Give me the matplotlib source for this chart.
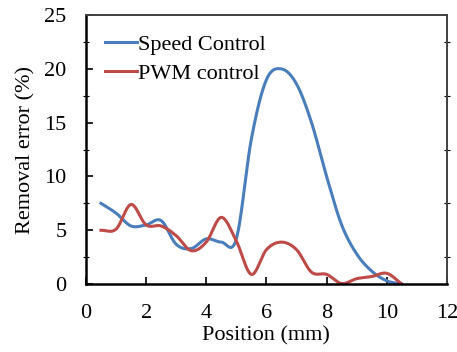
import numpy as np
import matplotlib.pyplot as plt
from matplotlib.ticker import MultipleLocator

position = [0.5, 1.0, 1.5, 2.0, 2.5, 3.0, 3.5, 4.0, 4.5, 5.0, 5.5,
            6.0, 6.5, 7.0, 7.5, 8.0, 8.5, 9.0, 9.5, 10.0, 10.5]
speed_control = [7.5, 6.6, 5.4, 5.5, 5.9, 3.7, 3.3, 4.2, 3.9, 4.2, 13.5,
                 19.0, 20.0, 18.6, 15.0, 10.0, 5.5, 2.8, 1.2, 0.3, 0.0]
pwm_control = [5.0, 5.1, 7.4, 5.5, 5.4, 4.5, 3.1, 3.9, 6.2, 4.0, 0.9,
               3.2, 3.9, 3.2, 1.1, 0.9, 0.05, 0.5, 0.7, 1.0, 0.0]


def smooth(x, y, n=20):
    # catmull-rom, like excel's smoothed line
    x = np.asarray(x, float)
    y = np.asarray(y, float)
    px = np.concatenate([[2 * x[0] - x[1]], x, [2 * x[-1] - x[-2]]])
    py = np.concatenate([[2 * y[0] - y[1]], y, [2 * y[-1] - y[-2]]])
    xs, ys = [], []
    t = np.linspace(0, 1, n, endpoint=False)
    for i in range(1, len(px) - 2):
        for p, out in ((px, xs), (py, ys)):
            p0, p1, p2, p3 = p[i - 1], p[i], p[i + 1], p[i + 2]
            out.extend(0.5 * (2 * p1 + (-p0 + p2) * t
                              + (2 * p0 - 5 * p1 + 4 * p2 - p3) * t ** 2
                              + (-p0 + 3 * p1 - 3 * p2 + p3) * t ** 3))
    xs.append(x[-1])
    ys.append(y[-1])
    return np.array(xs), np.array(ys)


plt.rcParams['font.family'] = 'Liberation Serif'

fig = plt.figure(figsize=(4.57, 3.52), dpi=100)
ax = fig.add_axes([0.188, 0.193, 0.79, 0.764])

sx, sy = smooth(position, speed_control)
ax.plot(sx, sy, color='#4a7ebb', lw=2.2, label='Speed Control')
px_, py_ = smooth(position, pwm_control)
ax.plot(px_, py_, color='#be4b48', lw=2.2, label='PWM control')

ax.set_xlim(0, 12)
ax.set_ylim(0, 25)
ax.xaxis.set_major_locator(MultipleLocator(2))
ax.yaxis.set_major_locator(MultipleLocator(5))
ax.yaxis.set_minor_locator(MultipleLocator(2.5))
ax.tick_params(axis='both', which='major', direction='in', length=5,
               width=1.2, labelsize=16, colors='black', pad=14)
ax.tick_params(axis='y', which='minor', direction='inout', length=4,
               width=0.8, right=True)
ax.tick_params(axis='y', which='major', right=False)

ax.spines['left'].set_linewidth(1.8)
ax.spines['bottom'].set_linewidth(1.8)
for s in ('top', 'right'):
    ax.spines[s].set_linewidth(1.4)
    ax.spines[s].set_color('#404040')

ax.set_xlabel('Position (mm)', fontsize=16, labelpad=3)
ax.set_ylabel('Removal error (%)', fontsize=16, labelpad=6)

ax.legend(loc='upper left', frameon=False, fontsize=16, handlelength=1.45,
          handletextpad=0.05, borderaxespad=0.45, labelspacing=0.4)

fig.savefig('out.png', dpi=100)
